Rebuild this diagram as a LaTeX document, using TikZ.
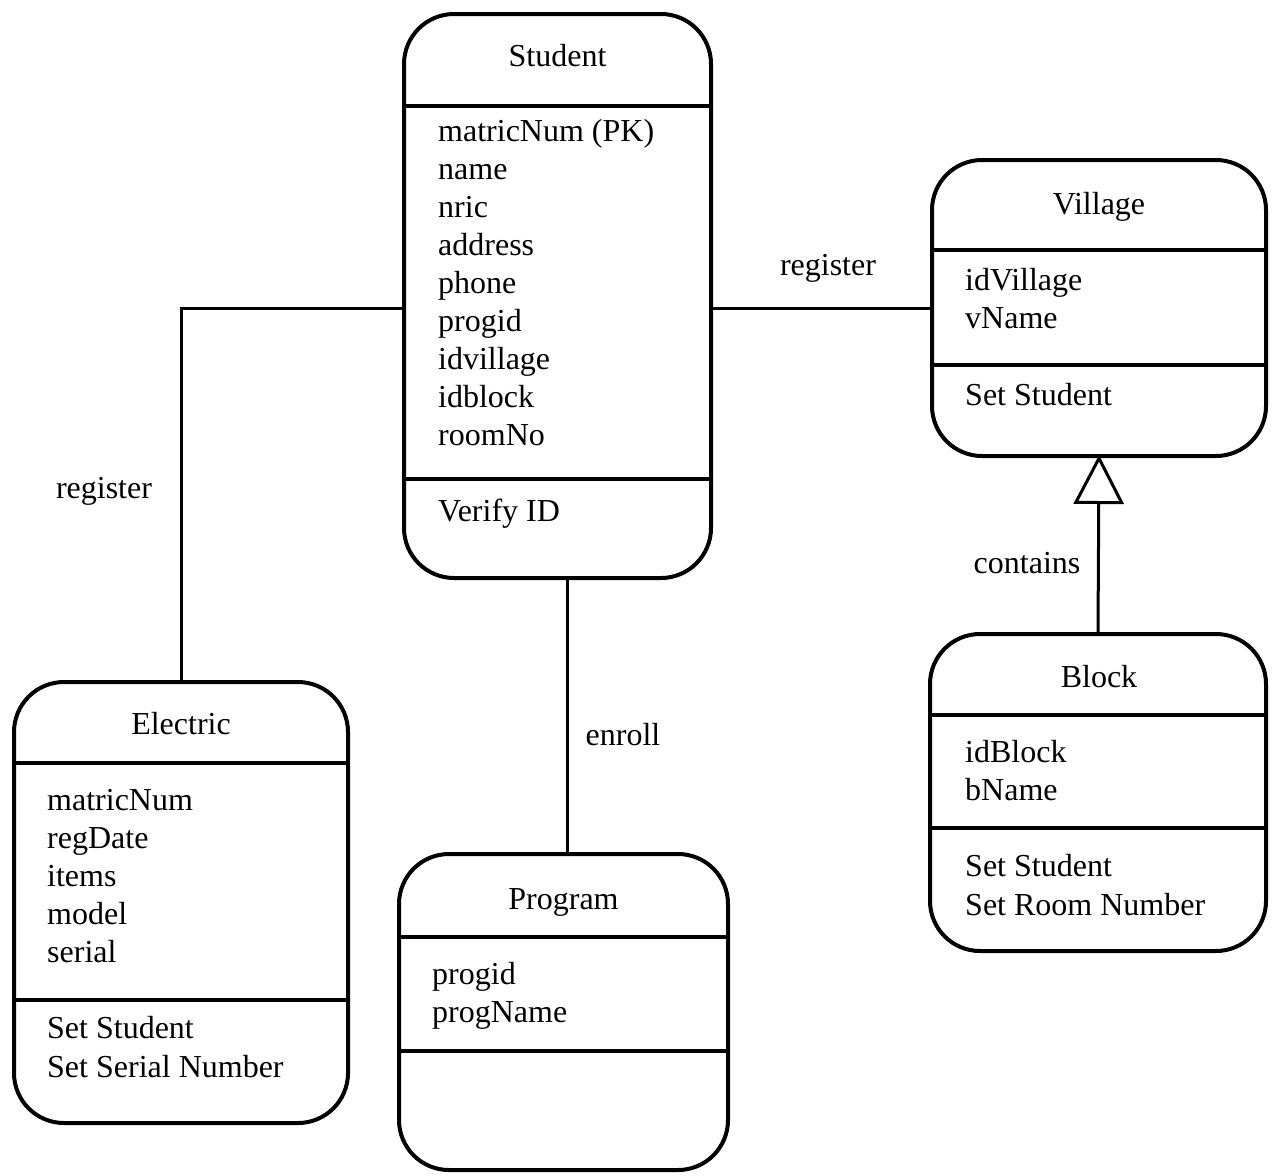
\documentclass[tikz,border=0pt]{standalone}
\usepackage{fontspec}
\setmainfont{Liberation Serif}
\usetikzlibrary{arrows.meta}
\begin{document}
\begin{tikzpicture}[x=1pt,y=-1pt,
  cls/.style={draw,line width=4pt,rounded corners=50pt,rectangle,inner sep=0pt},
  sep/.style={line width=4pt},
  link/.style={line width=3pt},
  txt/.style={inner sep=0pt,font=\fontsize{32}{38}\selectfont},
  attr/.style={txt,anchor=base west},
  ttl/.style={txt,anchor=base},
  lbl/.style={txt,anchor=base}]
\useasboundingbox[fill=white] (0,0) rectangle (1279,1175);

% class boxes
\node[cls,minimum width=307pt,minimum height=564pt] (student)  at (557.5,296) {};
\node[cls,minimum width=334pt,minimum height=296pt] (village)  at (1099,308) {};
\node[cls,minimum width=336pt,minimum height=317pt] (block)    at (1098,792.5) {};
\node[cls,minimum width=334pt,minimum height=441pt] (electric) at (181,902.5) {};
\node[cls,minimum width=329pt,minimum height=316pt] (program)  at (563.5,1012) {};

% compartment separators
\foreach \b/\ya/\yb in {student/106/479, village/250/365, block/715/828,
                        electric/763/1000, program/937/1051} {
  \draw[sep] (\b.west |- 0,\ya) -- (\b.east |- 0,\ya);
  \draw[sep] (\b.west |- 0,\yb) -- (\b.east |- 0,\yb);
}

% Student
\node[ttl] (student-t) at (557.5,66) {Student};
\foreach \t [count=\i] in {matricNum (PK),name,nric,address,phone,progid,idvillage,idblock,roomNo}
  \node[attr] (student-a\i) at (438,{103+38*\i}) {\t};
\node[attr] (student-m1) at (438,521) {Verify ID};

% Village
\node[ttl] (village-t) at (1099,214) {Village};
\node[attr] (village-a1) at (965,290) {idVillage};
\node[attr] (village-a2) at (965,328) {vName};
\node[attr] (village-m1) at (965,405) {Set Student};

% Block
\node[ttl] (block-t) at (1099,687) {Block};
\node[attr] (block-a1) at (965,762) {idBlock};
\node[attr] (block-a2) at (965,800) {bName};
\node[attr] (block-m1) at (965,876) {Set Student};
\node[attr] (block-m2) at (965,915) {Set Room Number};

% Electric
\node[ttl] (electric-t) at (181,734) {Electric};
\foreach \t [count=\i] in {matricNum,regDate,items,model,serial}
  \node[attr] (electric-a\i) at (47,{772+38*\i}) {\t};
\node[attr] (electric-m1) at (47,1038) {Set Student};
\node[attr] (electric-m2) at (47,1077) {Set Serial Number};

% Program
\node[ttl] (program-t) at (563.5,909) {Program};
\node[attr] (program-a1) at (432,984) {progid};
\node[attr] (program-a2) at (432,1022) {progName};

% associations
\draw[link] ([yshift=-12pt]student.west) -| (electric.north);
\draw[link] ([yshift=-12pt]student.east) -- (village.west);
\draw[link] ([xshift=9.5pt]student.south) -- ([xshift=3.5pt]program.north);
\draw[link,shorten >=-3pt,-{Triangle[open,length=49pt,width=50pt,line width=3pt]}] (block.north) -- (village.south);

% association labels
\node[lbl] (reg-left)  at (104,498) {register};
\node[lbl] (reg-right) at (828,275) {register};
\node[lbl] (enroll)    at (623,745) {enroll};
\node[lbl] (contains)  at (1027,573) {contains};
\end{tikzpicture}
\end{document}
